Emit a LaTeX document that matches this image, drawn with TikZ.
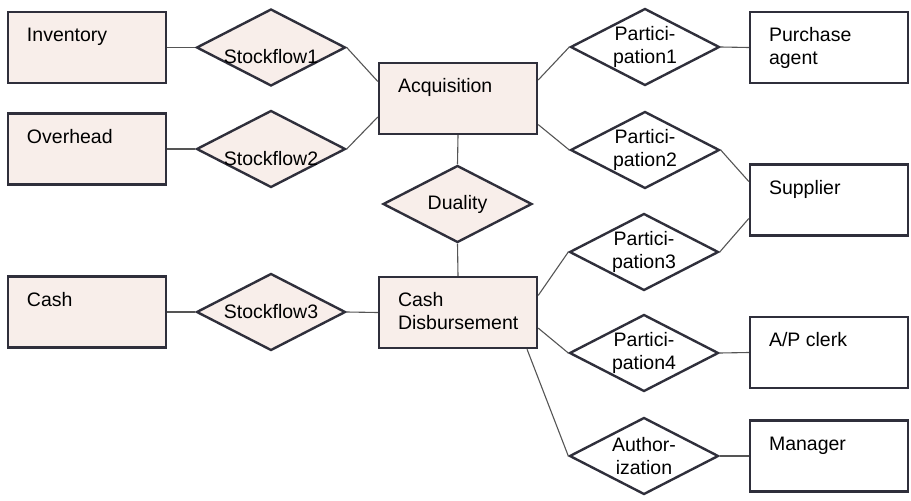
\documentclass[tikz,border=0pt]{standalone}
\usepackage{fontspec}
\setmainfont{Liberation Sans}
\usetikzlibrary{shapes.geometric}

\definecolor{entfill}{HTML}{F8EEEA}
\definecolor{outline}{HTML}{2F2F3B}
\definecolor{linkgray}{HTML}{555555}

% entity text: top-left aligned inside the box
\newcommand\boxlabel[1]{\parbox[c][70pt][t]{120pt}{\raggedright\rule{0pt}{29pt}#1}}
% relation text set lower than the diamond's centre
\newcommand\lowered[1]{\smash{\raisebox{-16pt}{#1}}}

\begin{document}
\begin{tikzpicture}[x=1pt,y=-1pt,
  every node/.style={font=\fontsize{19.5}{22.5}\selectfont},
  entity/.style={rectangle, draw=outline, line width=2.4pt, inner xsep=19pt, inner ysep=0pt,
                 minimum width=158pt, minimum height=71pt},
  shaded/.style={fill=entfill},
  plain/.style={fill=white},
  relation/.style={diamond, draw=outline, line width=2.4pt, aspect=2, inner sep=0pt,
                   minimum width=149pt, minimum height=77pt, align=center},
  link/.style={draw=linkgray, line width=1.1pt}]

\useasboundingbox (0,0) rectangle (911,501);

% entities
\node[entity,shaded] (inv)   at (87,47.5)   {\boxlabel{Inventory}};
\node[entity,shaded] (ovh)   at (87,149)    {\boxlabel{Overhead}};
\node[entity,shaded] (cash)  at (87,312)    {\boxlabel{Cash}};
\node[entity,shaded] (acq)   at (458,98.5)  {\boxlabel{Acquisition}};
\node[entity,shaded] (cd)    at (458,312.5) {\boxlabel{Cash\\Disbursement}};
\node[entity,plain]  (pa)    at (829,47.5)  {\boxlabel{Purchase\\agent}};
\node[entity,plain]  (sup)   at (829,200)   {\boxlabel{Supplier}};
\node[entity,plain]  (clerk) at (829,352.5) {\boxlabel{A/P clerk}};
\node[entity,plain]  (mgr)   at (829,456)   {\boxlabel{Manager}};

% relationships
\node[relation,shaded] (sf1)  at (271,47.5)  {\lowered{Stockflow1}};
\node[relation,shaded] (sf2)  at (271,149)   {\lowered{Stockflow2}};
\node[relation,shaded] (sf3)  at (271,312)   {Stockflow3};
\node[relation,shaded] (dual) at (457.5,204) {Duality};
\node[relation,plain]  (p1)   at (645,47)    {Partici-\\pation1};
\node[relation,plain]  (p2)   at (645,150)   {Partici-\\pation2};
\node[relation,plain]  (p3)   at (644,252)   {Partici-\\pation3};
\node[relation,plain]  (p4)   at (644,353)   {Partici-\\pation4};
\node[relation,plain]  (auth) at (644,456)   {Author-\\ization};

% connectors
\path[link] (inv.east) -- (sf1.west);
\path[link] (ovh.east) -- (sf2.west);
\path[link] (cash.east) -- (sf3.west);
\path[link] (sf1.east) -- (acq.168);
\path[link] (sf2.east) -- (acq.193);
\path[link] (sf3.east) -- (cd.west);
\path[link] (acq.south) -- (dual.north);
\path[link] (dual.south) -- (cd.north);
\path[link] (acq.13) -- (p1.west);
\path[link] (acq.-18) -- (p2.west);
\path[link] (cd.12) -- (p3.west);
\path[link] (cd.-11) -- (p4.west);
\path[link] (cd.-28.6) -- (auth.west);
\path[link] (p1.east) -- (pa.west);
\path[link] (p2.east) -- (sup.167);
\path[link] (p3.east) -- (sup.193);
\path[link] (p4.east) -- (clerk.west);
\path[link] (auth.east) -- (mgr.west);

\end{tikzpicture}
\end{document}
